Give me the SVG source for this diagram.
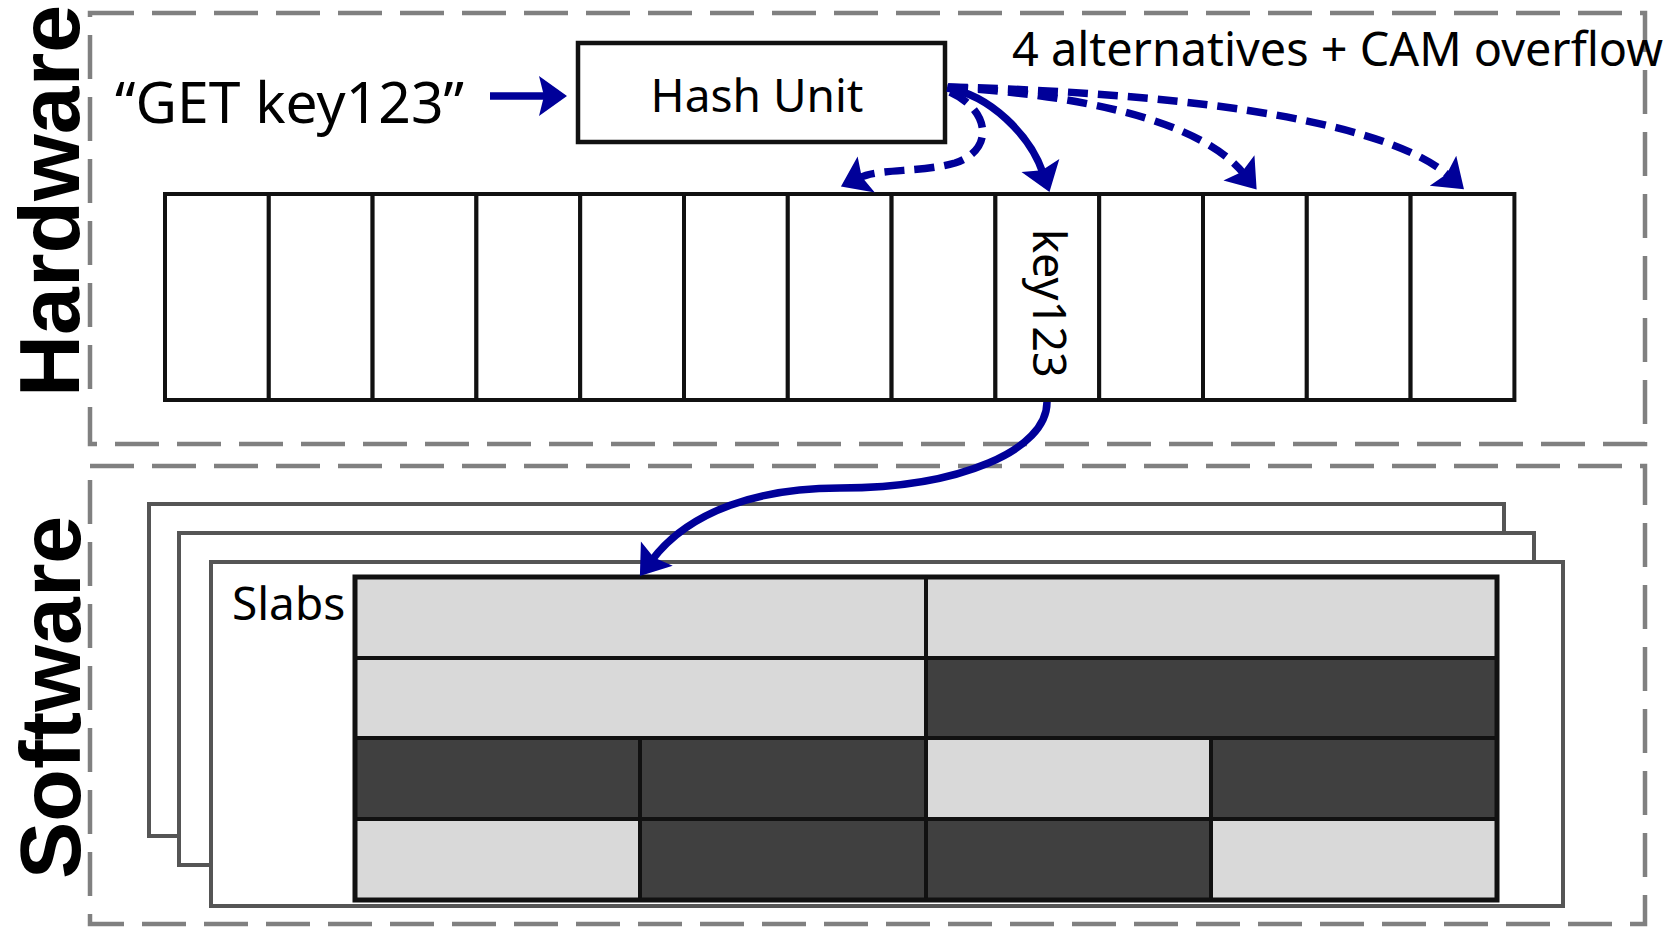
<svg xmlns="http://www.w3.org/2000/svg" width="1670" height="930" viewBox="0 0 1670 930">
<style>
.frame{fill:none;stroke:#808080;stroke-width:4.5;stroke-dasharray:44 18}
.side{font-family:"Liberation Sans",Arial,sans-serif;font-weight:bold;font-size:86px;fill:#000}
.lbl{font-family:"Noto Sans","Open Sans",sans-serif;fill:#000}
.cell{fill:#fff;stroke:#111;stroke-width:4}
.page{fill:#fff;stroke:#555;stroke-width:4}
.lt{fill:#d9d9d9;stroke:#111;stroke-width:4}
.dk{fill:#404040;stroke:#111;stroke-width:4}
.arr{fill:none;stroke:#000099;stroke-width:7.5;marker-end:url(#head)}
.dash{stroke-dasharray:20 10}
</style>
<defs>
<marker id="head" markerUnits="userSpaceOnUse" markerWidth="60" markerHeight="60" refX="0" refY="0" orient="auto" overflow="visible">
<path d="M-8,-20 L20,0 L-8,20 L-3,0 Z" fill="#000099"/>
</marker>
</defs>

<g id="hardware-frame">
<rect class="frame" x="90" y="13" width="1555" height="431"/>
<text class="side" transform="translate(79,397) rotate(-90)">Hardware</text>
</g>
<g id="software-frame">
<rect class="frame" x="90" y="466" width="1555" height="458"/>
<text class="side" transform="translate(80,879) rotate(-90)">Software</text>
</g>

<g id="request">
<text class="lbl" x="115" y="123" font-size="57">“GET key123”</text>
</g>
<g id="hash-unit">
<rect x="578" y="43" width="367" height="99" fill="#fff" stroke="#111" stroke-width="4.5"/>
<text class="lbl" x="757" y="112" font-size="46" text-anchor="middle">Hash Unit</text>
</g>
<g id="alt-label">
<text class="lbl" x="1012" y="66" font-size="46.8">4 alternatives + CAM overflow</text>
</g>

<g id="buckets">
<rect class="cell" x="165" y="194" width="103.8" height="206"/>
<rect class="cell" x="268.8" y="194" width="103.8" height="206"/>
<rect class="cell" x="372.6" y="194" width="103.8" height="206"/>
<rect class="cell" x="476.4" y="194" width="103.8" height="206"/>
<rect class="cell" x="580.2" y="194" width="103.8" height="206"/>
<rect class="cell" x="684" y="194" width="103.8" height="206"/>
<rect class="cell" x="787.8" y="194" width="103.8" height="206"/>
<rect class="cell" x="891.6" y="194" width="103.8" height="206"/>
<rect class="cell" x="995.4" y="194" width="103.8" height="206"/>
<rect class="cell" x="1099.2" y="194" width="103.8" height="206"/>
<rect class="cell" x="1203" y="194" width="103.8" height="206"/>
<rect class="cell" x="1306.8" y="194" width="103.8" height="206"/>
<rect class="cell" x="1410.6" y="194" width="103.8" height="206"/>
<text class="lbl" font-size="45" transform="translate(1033,229) rotate(90)">key123</text>
</g>

<g id="slab-pages">
<rect class="page" x="149" y="504" width="1355" height="332"/>
<rect class="page" x="179" y="533" width="1355" height="332"/>
<rect class="page" x="211" y="562" width="1352" height="344"/>
<text class="lbl" x="232" y="620" font-size="46">Slabs</text>
</g>

<g id="slabs">
<rect class="lt" x="355" y="577" width="571" height="81"/>
<rect class="lt" x="926" y="577" width="571" height="81"/>
<rect class="lt" x="355" y="658" width="571" height="80"/>
<rect class="dk" x="926" y="658" width="571" height="80"/>
<rect class="dk" x="355" y="738" width="285" height="81"/>
<rect class="dk" x="640" y="738" width="286" height="81"/>
<rect class="lt" x="926" y="738" width="285" height="81"/>
<rect class="dk" x="1211" y="738" width="286" height="81"/>
<rect class="lt" x="355" y="819" width="285" height="81"/>
<rect class="dk" x="640" y="819" width="286" height="81"/>
<rect class="dk" x="926" y="819" width="285" height="81"/>
<rect class="lt" x="1211" y="819" width="286" height="81"/>
<rect x="355" y="577" width="1142" height="323" fill="none" stroke="#111" stroke-width="5"/>
</g>

<g id="connectors">
<path class="arr" d="M490,96 L547,96"/>
<path class="arr" d="M947,88 C990,95 1030,135 1043,173"/>
<path class="arr dash" d="M950,92 C990,110 995,150 955,163 C920,173 880,168 859,178"/>
<path class="arr dash" d="M948,87 C1080,95 1200,120 1244,174"/>
<path class="arr dash" d="M948,87 C1150,92 1380,115 1449,176"/>
<path class="arr" d="M1047,402 C1047,450 960,488 840,488 C760,488 690,510 652,560"/>
</g>
</svg>
